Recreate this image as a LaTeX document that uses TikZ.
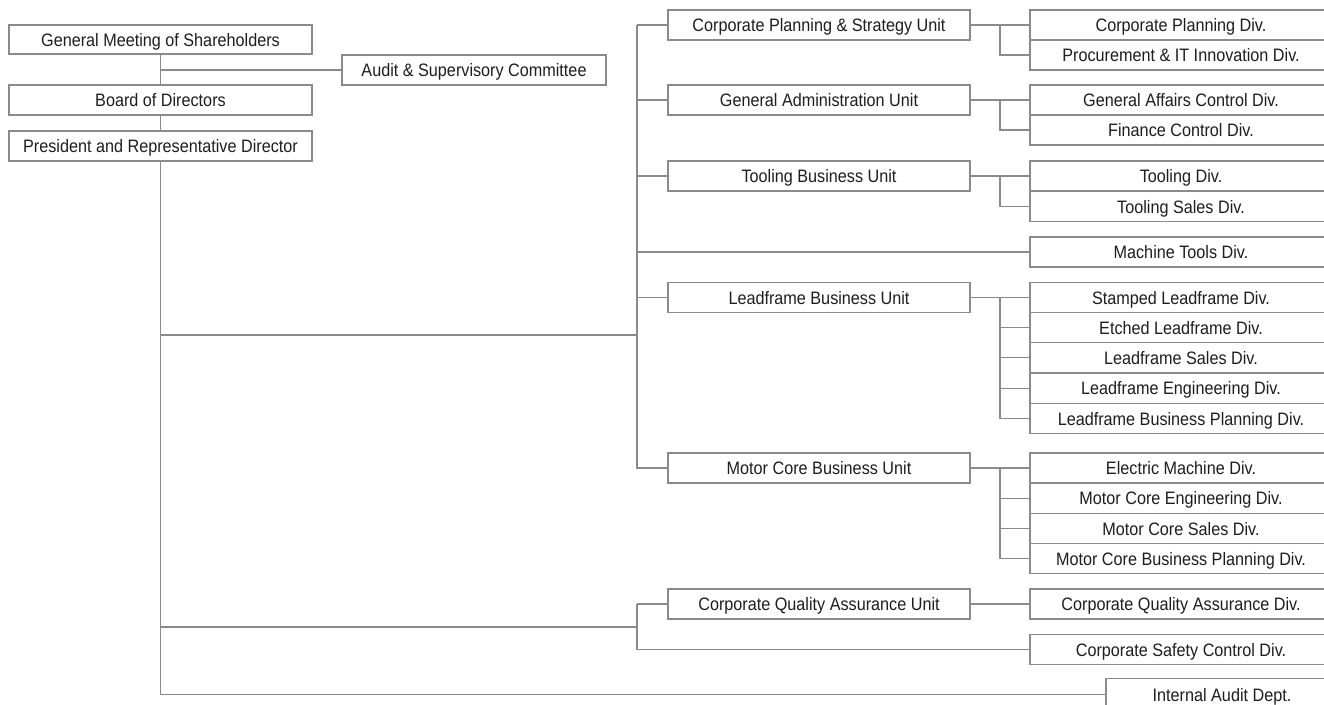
\documentclass[tikz,border=0pt]{standalone}
\usepackage{fontspec}
\setmainfont{Liberation Sans}[FakeStretch=0.9]
\definecolor{linegray}{HTML}{8A8A8A}
\definecolor{txt}{HTML}{1E1E1E}
\begin{document}
\begin{tikzpicture}[x=1pt,y=-1pt,
  box/.style={draw=linegray,line width=1.1pt,fill=white,inner sep=0pt,
    minimum height=30pt,text=txt,text height=16.5pt,text depth=3pt,
    font=\fontsize{18pt}{21pt}\selectfont},
  leftbox/.style={box,minimum width=303pt},
  midbox/.style={box,minimum width=302pt},
  divbox/.style={box,minimum width=302pt,overlay},
  conn/.style={draw=linegray,line width=1.1pt}]
\useasboundingbox (0,0) rectangle (1324,704);
\clip (0,0) rectangle (1324,704);
\fill[white] (0,0) rectangle (1324,704);
% left column
\node[leftbox,minimum height=29pt] (gm) at (160.5,39.5) {General Meeting of Shareholders};
\node[leftbox] (bod) at (160.5,100) {Board of Directors};
\node[leftbox] (pres) at (160.5,146) {President and Representative Director};
\node[box,minimum width=264pt] (audit) at (474,70) {Audit \& Supervisory Committee};
% middle column
\node[midbox] (cps) at (819,25) {Corporate Planning \& Strategy Unit};
\node[midbox] (ga) at (819,100) {General Administration Unit};
\node[midbox] (tool) at (819,176) {Tooling Business Unit};
\node[midbox] (lf) at (819,297.5) {Leadframe Business Unit};
\node[midbox] (mc) at (819,468) {Motor Core Business Unit};
\node[midbox] (cqau) at (819,604) {Corporate Quality Assurance Unit};
% right column
\node[divbox] (cpd) at (1181,25) {Corporate Planning Div.};
\node[divbox] (proc) at (1181,55) {Procurement \& IT Innovation Div.};
\node[divbox] (gac) at (1181,100) {General Affairs Control Div.};
\node[divbox] (fin) at (1181,130) {Finance Control Div.};
\node[divbox] (td) at (1181,176) {Tooling Div.};
\node[divbox] (tsd) at (1181,206.5) {Tooling Sales Div.};
\node[divbox] (mt) at (1181,252) {Machine Tools Div.};
\node[divbox] (slf) at (1181,297.5) {Stamped Leadframe Div.};
\node[divbox] (elf) at (1181,327.7) {Etched Leadframe Div.};
\node[divbox] (lfs) at (1181,357.9) {Leadframe Sales Div.};
\node[divbox] (lfe) at (1181,388.1) {Leadframe Engineering Div.};
\node[divbox] (lfbp) at (1181,418.3) {Leadframe Business Planning Div.};
\node[divbox] (em) at (1181,468) {Electric Machine Div.};
\node[divbox] (mce) at (1181,498.2) {Motor Core Engineering Div.};
\node[divbox] (mcs) at (1181,528.4) {Motor Core Sales Div.};
\node[divbox] (mcbp) at (1181,558.6) {Motor Core Business Planning Div.};
\node[divbox] (cqad) at (1181,604) {Corporate Quality Assurance Div.};
\node[divbox] (csc) at (1181,649.5) {Corporate Safety Control Div.};
\node[box,overlay,minimum width=232pt,minimum height=32pt] (ia) at (1222,694.5) {Internal Audit Dept.};
% junction coordinates
\coordinate (T1) at (160.5,335);
\coordinate (T2) at (637,335);
\coordinate (T3) at (637,627);
\coordinate (S) at (1000,0);
% top connectors
\draw[conn] (gm.south) -- (bod.north);
\draw[conn] (gm.south |- audit.west) -- (audit.west);
\draw[conn] (bod.south) -- (pres.north);
\draw[conn] (pres.south) -- (pres.south |- ia.west) -- (ia.west);
\draw[conn] (T1) -- (T2);
% second trunk
\draw[conn] (T2 |- cps.west) -- (cps.west);
\draw[conn] (T2 |- cps.west) -- (T2 |- mc.west) -- (mc.west);
\draw[conn] (T2 |- ga.west) -- (ga.west);
\draw[conn] (T2 |- tool.west) -- (tool.west);
\draw[conn] (T2 |- mt.west) -- (mt.west);
\draw[conn] (T2 |- lf.west) -- (lf.west);
% quality / safety branch
\draw[conn] (pres.south |- T3) -- (T3);
\draw[conn] (T3 |- cqau.west) -- (cqau.west);
\draw[conn] (T3 |- cqau.west) -- (T3 |- csc.west) -- (csc.west);
\draw[conn] (cqau.east) -- (cqad.west);
% sub-trunks
\draw[conn] (cps.east) -- (cpd.west);
\draw[conn] (S |- cpd.west) -- (S |- proc.west) -- (proc.west);
\draw[conn] (ga.east) -- (gac.west);
\draw[conn] (S |- gac.west) -- (S |- fin.west) -- (fin.west);
\draw[conn] (tool.east) -- (td.west);
\draw[conn] (S |- td.west) -- (S |- tsd.west) -- (tsd.west);
\draw[conn] (lf.east) -- (slf.west);
\draw[conn] (S |- slf.west) -- (S |- lfbp.west) -- (lfbp.west);
\draw[conn] (S |- elf.west) -- (elf.west);
\draw[conn] (S |- lfs.west) -- (lfs.west);
\draw[conn] (S |- lfe.west) -- (lfe.west);
\draw[conn] (mc.east) -- (em.west);
\draw[conn] (S |- em.west) -- (S |- mcbp.west) -- (mcbp.west);
\draw[conn] (S |- mce.west) -- (mce.west);
\draw[conn] (S |- mcs.west) -- (mcs.west);
\end{tikzpicture}
\end{document}
